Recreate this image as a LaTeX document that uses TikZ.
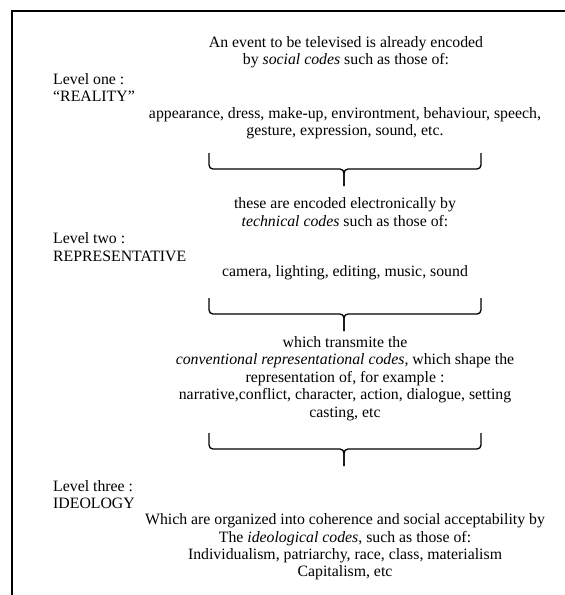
\documentclass[tikz,border=0pt]{standalone}
\usepackage{fontspec}
\setmainfont{Liberation Serif}
\usepackage{tikz}
\usetikzlibrary{positioning}

\tikzset{
  codetext/.style={align=center, inner sep=0pt, font=\fontsize{15.8pt}{17.4pt}\selectfont},
  levellabel/.style={anchor=west, align=left, inner sep=0pt, font=\fontsize{15.8pt}{17.4pt}\selectfont},
  codebrace/.style={line width=1.3pt, rounded corners=4pt}
}

\begin{document}
\begin{tikzpicture}[x=1pt, y=-1pt]
    \useasboundingbox (0,0) rectangle (565,595);
    \draw[line width=1.6pt] (12,595) -- (12,11) -- (565,11);

    % level one
    \node[codetext] (event) at (346,52) {An event to be televised is already encoded\\
      by \textit{social codes} such as those of:};
    \node[levellabel] (levelone) at (53,87.5) {Level one :\\“REALITY”};
    \node[codetext] (social) at (345,123) {appearance, dress, make-up, environtment, behaviour, speech,\\
      gesture, expression, sound, etc.};

    % level two
    \node[codetext] (encoded) at (345,212) {these are encoded electronically by\\
      \textit{technical codes} such as those of:};
    \node[levellabel] (leveltwo) at (53,247) {Level two :\\REPRESENTATIVE};
    \node[codetext] (technical) at (345,273) {camera, lighting, editing, music, sound};
    \node[codetext] (conventional) at (345,378.5) {which transmite the\\
      \textit{conventional representational codes}, which shape the\\
      representation of, for example :\\
      narrative,conflict, character, action, dialogue, setting\\
      casting, etc};

    % level three
    \node[levellabel] (levelthree) at (53,494.5) {Level three :\\IDEOLOGY};
    \node[codetext] (ideological) at (345,547) {Which are organized into coherence and social acceptability by\\
      The \textit{ideological codes}, such as those of:\\
      Individualism, patriarchy, race, class, materialism\\
      Capitalism, etc};

    % braces between the levels
    \foreach \y in {153, 298, 433} {
      \draw[codebrace] (209,\y) -- (209,\y+16) -- (344,\y+16) -- (344,\y+33);
      \draw[codebrace] (481,\y) -- (481,\y+16) -- (344,\y+16) -- (344,\y+33);
    }
\end{tikzpicture}
\end{document}
